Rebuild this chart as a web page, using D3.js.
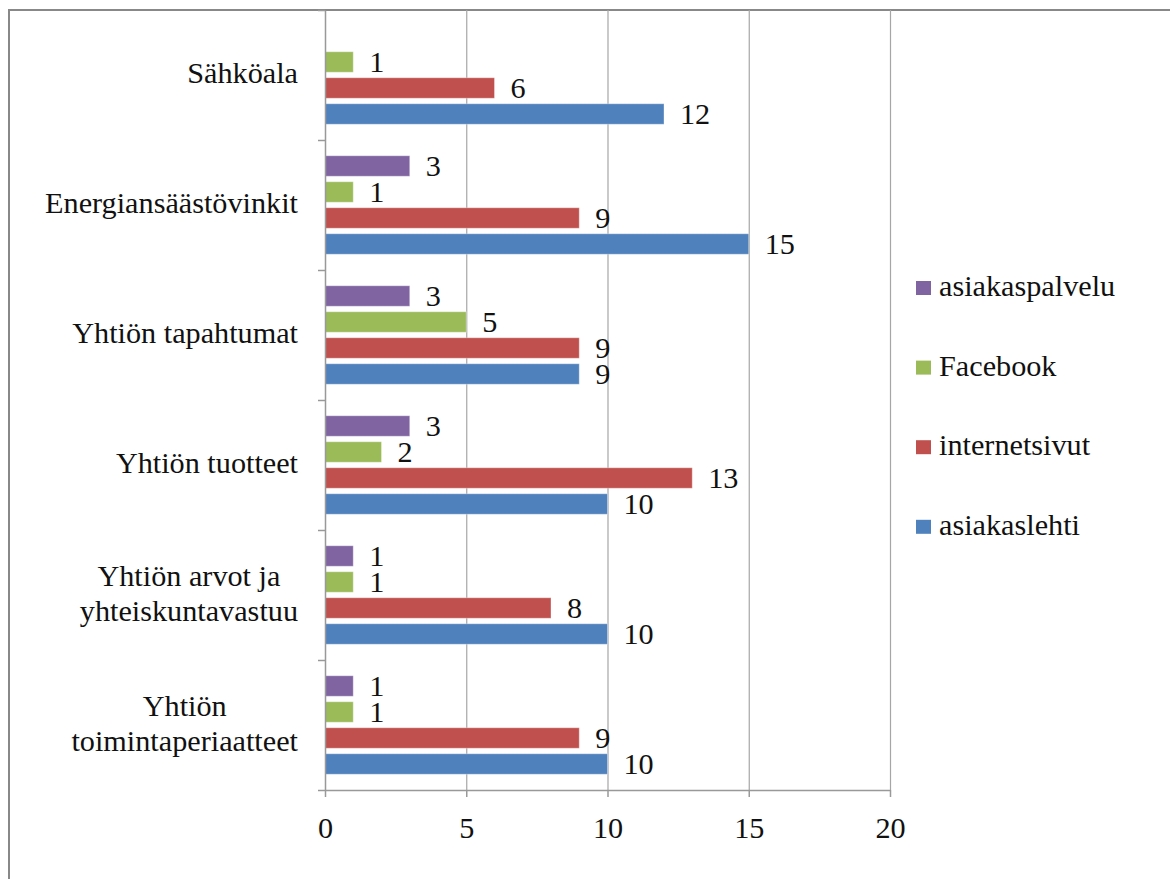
<!DOCTYPE html>
<html>
<head>
<meta charset="utf-8">
<script src="https://cdn.jsdelivr.net/npm/d3@7"></script>
<style>
  html, body { margin: 0; padding: 0; background: #fff; }
  svg { display: block; }
</style>
</head>
<body>
<svg id="chart" width="1170" height="879"></svg>
<script>
const categories = ["Sähköala", "Energiansäästövinkit", "Yhtiön tapahtumat", "Yhtiön tuotteet", "Yhtiön arvot ja\nyhteiskuntavastuu", "Yhtiön\ntoimintaperiaatteet"];
const seriesNames = ["asiakaspalvelu", "Facebook", "internetsivut", "asiakaslehti"];
const asiakaspalvelu = [null, 3, 3, 3, 1, 1];
const facebook = [1, 1, 5, 2, 1, 1];
const internetsivut = [6, 9, 9, 13, 8, 9];
const asiakaslehti = [12, 15, 9, 10, 10, 10];
const seriesColors = ["#8064A2", "#9BBB59", "#C0504D", "#4F81BD"];
const xTicks = [0, 5, 10, 15, 20];

const seriesValues = [asiakaspalvelu, facebook, internetsivut, asiakaslehti];

const svg = d3.select("#chart");
const FONT = "'Liberation Serif', Tinos, 'Times New Roman', 'DejaVu Serif', serif";

// pick font size so the serif text width matches the reference
const probe = svg.append("text").attr("font-family", FONT).attr("font-size", 100).text("Energiansäästövinkit");
const pw = probe.node().getComputedTextLength();
probe.remove();
const FS = Math.max(20, Math.min(31, 100 * 253 / pw));

// outer frame (extends beyond the visible picture on right/bottom)
svg.append("rect").attr("x", 9).attr("y", 10).attr("width", 1300).attr("height", 1000)
  .attr("fill", "none").attr("stroke", "#888").attr("stroke-width", 2);

const x = d3.scaleLinear().domain([0, 20]).range([325, 890]);
const y = d3.scaleBand().domain(categories).range([10, 790]).padding(0);
const yInner = d3.scaleBand().domain(seriesNames).range([0, y.bandwidth()])
  .paddingInner(0.2115).paddingOuter(0.606);

// gridlines
svg.append("g").attr("transform", "translate(0,790)")
  .call(d3.axisBottom(x).tickValues(xTicks.slice(1)).tickSize(-780).tickFormat(""))
  .call(g => g.select(".domain").remove())
  .call(g => g.selectAll("line").attr("stroke", "#a6a6a6").attr("stroke-width", 1.2));

// bars
const groups = svg.append("g").selectAll("g").data(categories).join("g")
  .attr("transform", d => `translate(0,${y(d)})`);

seriesNames.forEach((s, si) => {
  const vals = seriesValues[si];
  groups.each(function(cat, ci) {
    const v = vals[ci];
    if (v == null) return;
    const g = d3.select(this);
    g.append("rect")
      .attr("x", x(0))
      .attr("y", yInner(s))
      .attr("width", x(v) - x(0))
      .attr("height", yInner.bandwidth())
      .attr("fill", seriesColors[si])
      .attr("stroke", "rgba(255,255,255,0.35)")
      .attr("stroke-width", 1);
    g.append("text")
      .attr("x", x(v) + 16)
      .attr("y", yInner(s) + yInner.bandwidth() / 2)
      .attr("dy", "0.34em")
      .attr("font-family", FONT)
      .attr("font-size", FS)
      .attr("fill", "#111")
      .text(v);
  });
});

// y axis with ticks at band boundaries
const yEdges = d3.scaleLinear().domain([0, categories.length]).range([10, 790]);
svg.append("g").attr("transform", "translate(325,0)")
  .call(d3.axisLeft(yEdges).ticks(categories.length).tickSize(7).tickSizeOuter(0).tickFormat(""))
  .call(g => g.selectAll("line, path").attr("stroke", "#999").attr("stroke-width", 1.5));

// x axis
const xAxis = svg.append("g").attr("transform", "translate(0,790)")
  .call(d3.axisBottom(x).tickValues(xTicks).tickSize(7).tickSizeOuter(0).tickPadding(20));
xAxis.selectAll("line, path").attr("stroke", "#999").attr("stroke-width", 1.5);
xAxis.selectAll("text").attr("font-size", FS).attr("font-family", FONT).attr("fill", "#111");

// category labels
const catLabels = svg.append("g");
categories.forEach(c => {
  const lines = c.split("\n");
  const cy = y(c) + y.bandwidth() / 2;
  const lh = 35;
  const t = catLabels.append("text").attr("font-size", FS).attr("font-family", FONT)
    .attr("fill", "#111").attr("text-anchor", "middle");
  lines.forEach((ln, i) => {
    t.append("tspan").attr("y", cy + 8 + (i - (lines.length - 1) / 2) * lh).text(ln);
  });
  const tsp = t.selectAll("tspan").nodes();
  const wMax = d3.max(tsp, n => n.getComputedTextLength());
  t.selectAll("tspan").attr("x", 298 - wMax / 2);
});

// legend
const legend = svg.append("g");
seriesNames.forEach((s, i) => {
  const cy = 288 + i * 79.6;
  legend.append("rect").attr("x", 916).attr("y", cy - 7).attr("width", 15).attr("height", 14)
    .attr("fill", seriesColors[i]);
  legend.append("text").attr("x", 939).attr("y", cy + 8).attr("font-size", FS)
    .attr("font-family", FONT).attr("fill", "#111").text(s);
});
</script>
</body>
</html>
